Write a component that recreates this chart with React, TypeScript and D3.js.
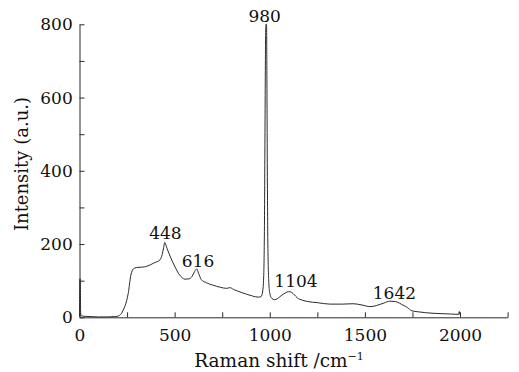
import React, { useEffect, useRef } from 'react';
import * as d3 from 'd3';

// Raman spectrum
const ramanShift = [
  0, 2, 4, 6, 10, 20, 50, 100, 150, 190, 205, 220, 230, 240, 256, 270, 283, 300, 330, 353, 390, 423, 435, 442, 448,
  460, 480, 500, 520, 540, 555, 575, 592, 605, 616, 626, 640, 668, 700, 740, 773, 790, 810, 850, 878, 910, 940, 955,
  963, 968, 972, 975, 978, 980, 983, 985, 987, 990, 995, 1000, 1010, 1025, 1040, 1060, 1080, 1100, 1115, 1130, 1145,
  1170, 1200, 1250, 1316, 1380, 1438, 1460, 1490, 1526, 1560, 1600, 1631, 1660, 1701, 1725, 1745, 1780, 1858, 1900,
  1950, 1993, 1996, 1999, 2002,
];
const intensity = [
  3, 105, 105, 12, 4, 3, 2, 1, 1, 2, 4, 10, 20, 32, 65, 115, 132, 136, 137, 139, 148, 157, 172, 190, 204,
  188, 162, 140, 120, 108, 104, 105, 112, 125, 132, 120, 103, 94, 88, 82, 79, 81, 76, 68, 63, 58, 55, 57,
  72, 110, 250, 520, 760, 800, 800, 650, 420, 200, 95, 66, 52, 48, 51, 59, 66, 70, 68, 61, 53,
  47, 43, 40, 36, 36, 37, 36, 33, 29, 32, 39, 44, 43, 33, 26, 18, 15, 11, 10,
  9, 8, 16, 8, 8,
];

const peakLabels = ['448', '616', '980', '1104', '1642'];
const peakX = [448, 616, 980, 1104, 1642];
const peakY = [204, 132, 800, 70, 45];

const xTicks = [0, 250, 500, 750, 1000, 1250, 1500, 1750, 2000, 2250];
const yTicks = [0, 100, 200, 300, 400, 500, 600, 700, 800];

const W = 519;
const H = 372;
const FONT = '"DejaVu Serif", serif';
const INK = '#2b2b2b';

export default function App() {
  const ref = useRef<SVGSVGElement>(null);

  useEffect(() => {
    const svg = d3.select(ref.current);
    svg.selectAll('*').remove();

    const x = d3.scaleLinear().domain([0, 2250]).range([79.5, 507.6]);
    const y = d3.scaleLinear().domain([0, 800]).range([317.3, 24.3]);

    const xAxis = d3.axisBottom(x)
      .tickValues(xTicks)
      .tickSizeInner(-5)
      .tickSizeOuter(0)
      .tickPadding(11.3)
      .tickFormat((d: any) => (d % 500 === 0 && d <= 2000 ? String(d) : ''));

    const yAxis = d3.axisLeft(y)
      .tickValues(yTicks)
      .tickSizeInner(-5)
      .tickSizeOuter(0)
      .tickPadding(6.8)
      .tickFormat((d: any) => (d % 200 === 0 ? String(d) : ''));

    const gx = svg.append('g').attr('transform', `translate(0,${y(0)})`).call(xAxis);
    const gy = svg.append('g').attr('transform', `translate(${x(0)},0)`).call(yAxis);

    [gx, gy].forEach(g => {
      g.selectAll('path, line').attr('stroke', INK).attr('stroke-width', 1);
      g.selectAll('text')
        .attr('fill', '#111')
        .style('font-family', FONT)
        .style('font-size', '17px');
    });

    const line = d3.line<number>()
      .x((_, i) => x(ramanShift[i]))
      .y(d => y(d))
      .curve(d3.curveMonotoneX);

    svg.append('path')
      .datum(intensity)
      .attr('d', line)
      .attr('fill', 'none')
      .attr('stroke', INK)
      .attr('stroke-width', 1);

    const labelDx = [0.7, 1.3, -1.3, 6.4, 2.5];
    const labelDy = [-3.6, -2, -2.6, -4.7, -1.5];
    svg.append('g')
      .selectAll('text')
      .data(peakLabels)
      .join('text')
      .attr('x', (_, i) => x(peakX[i]) + labelDx[i])
      .attr('y', (_, i) => y(peakY[i]) + labelDy[i])
      .attr('text-anchor', 'middle')
      .attr('fill', '#111')
      .style('font-family', FONT)
      .style('font-size', '17px')
      .text(d => d);

    const xt = svg.append('text')
      .attr('x', 279)
      .attr('y', 366.5)
      .attr('text-anchor', 'middle')
      .attr('fill', '#111')
      .style('font-family', FONT)
      .style('font-size', '18.5px');
    xt.append('tspan').text('Raman shift /cm');
    xt.append('tspan').attr('dy', -7).style('font-size', '11px').text('−1');

    svg.append('text')
      .attr('transform', 'translate(27.5,164) rotate(-90)')
      .attr('text-anchor', 'middle')
      .attr('fill', '#111')
      .style('font-family', FONT)
      .style('font-size', '18px')
      .text('Intensity (a.u.)');
  }, []);

  return (
    <svg
      ref={ref}
      width={W}
      height={H}
      style={{ position: 'absolute', left: 0, top: 0, background: '#fff' }}
    />
  );
}
